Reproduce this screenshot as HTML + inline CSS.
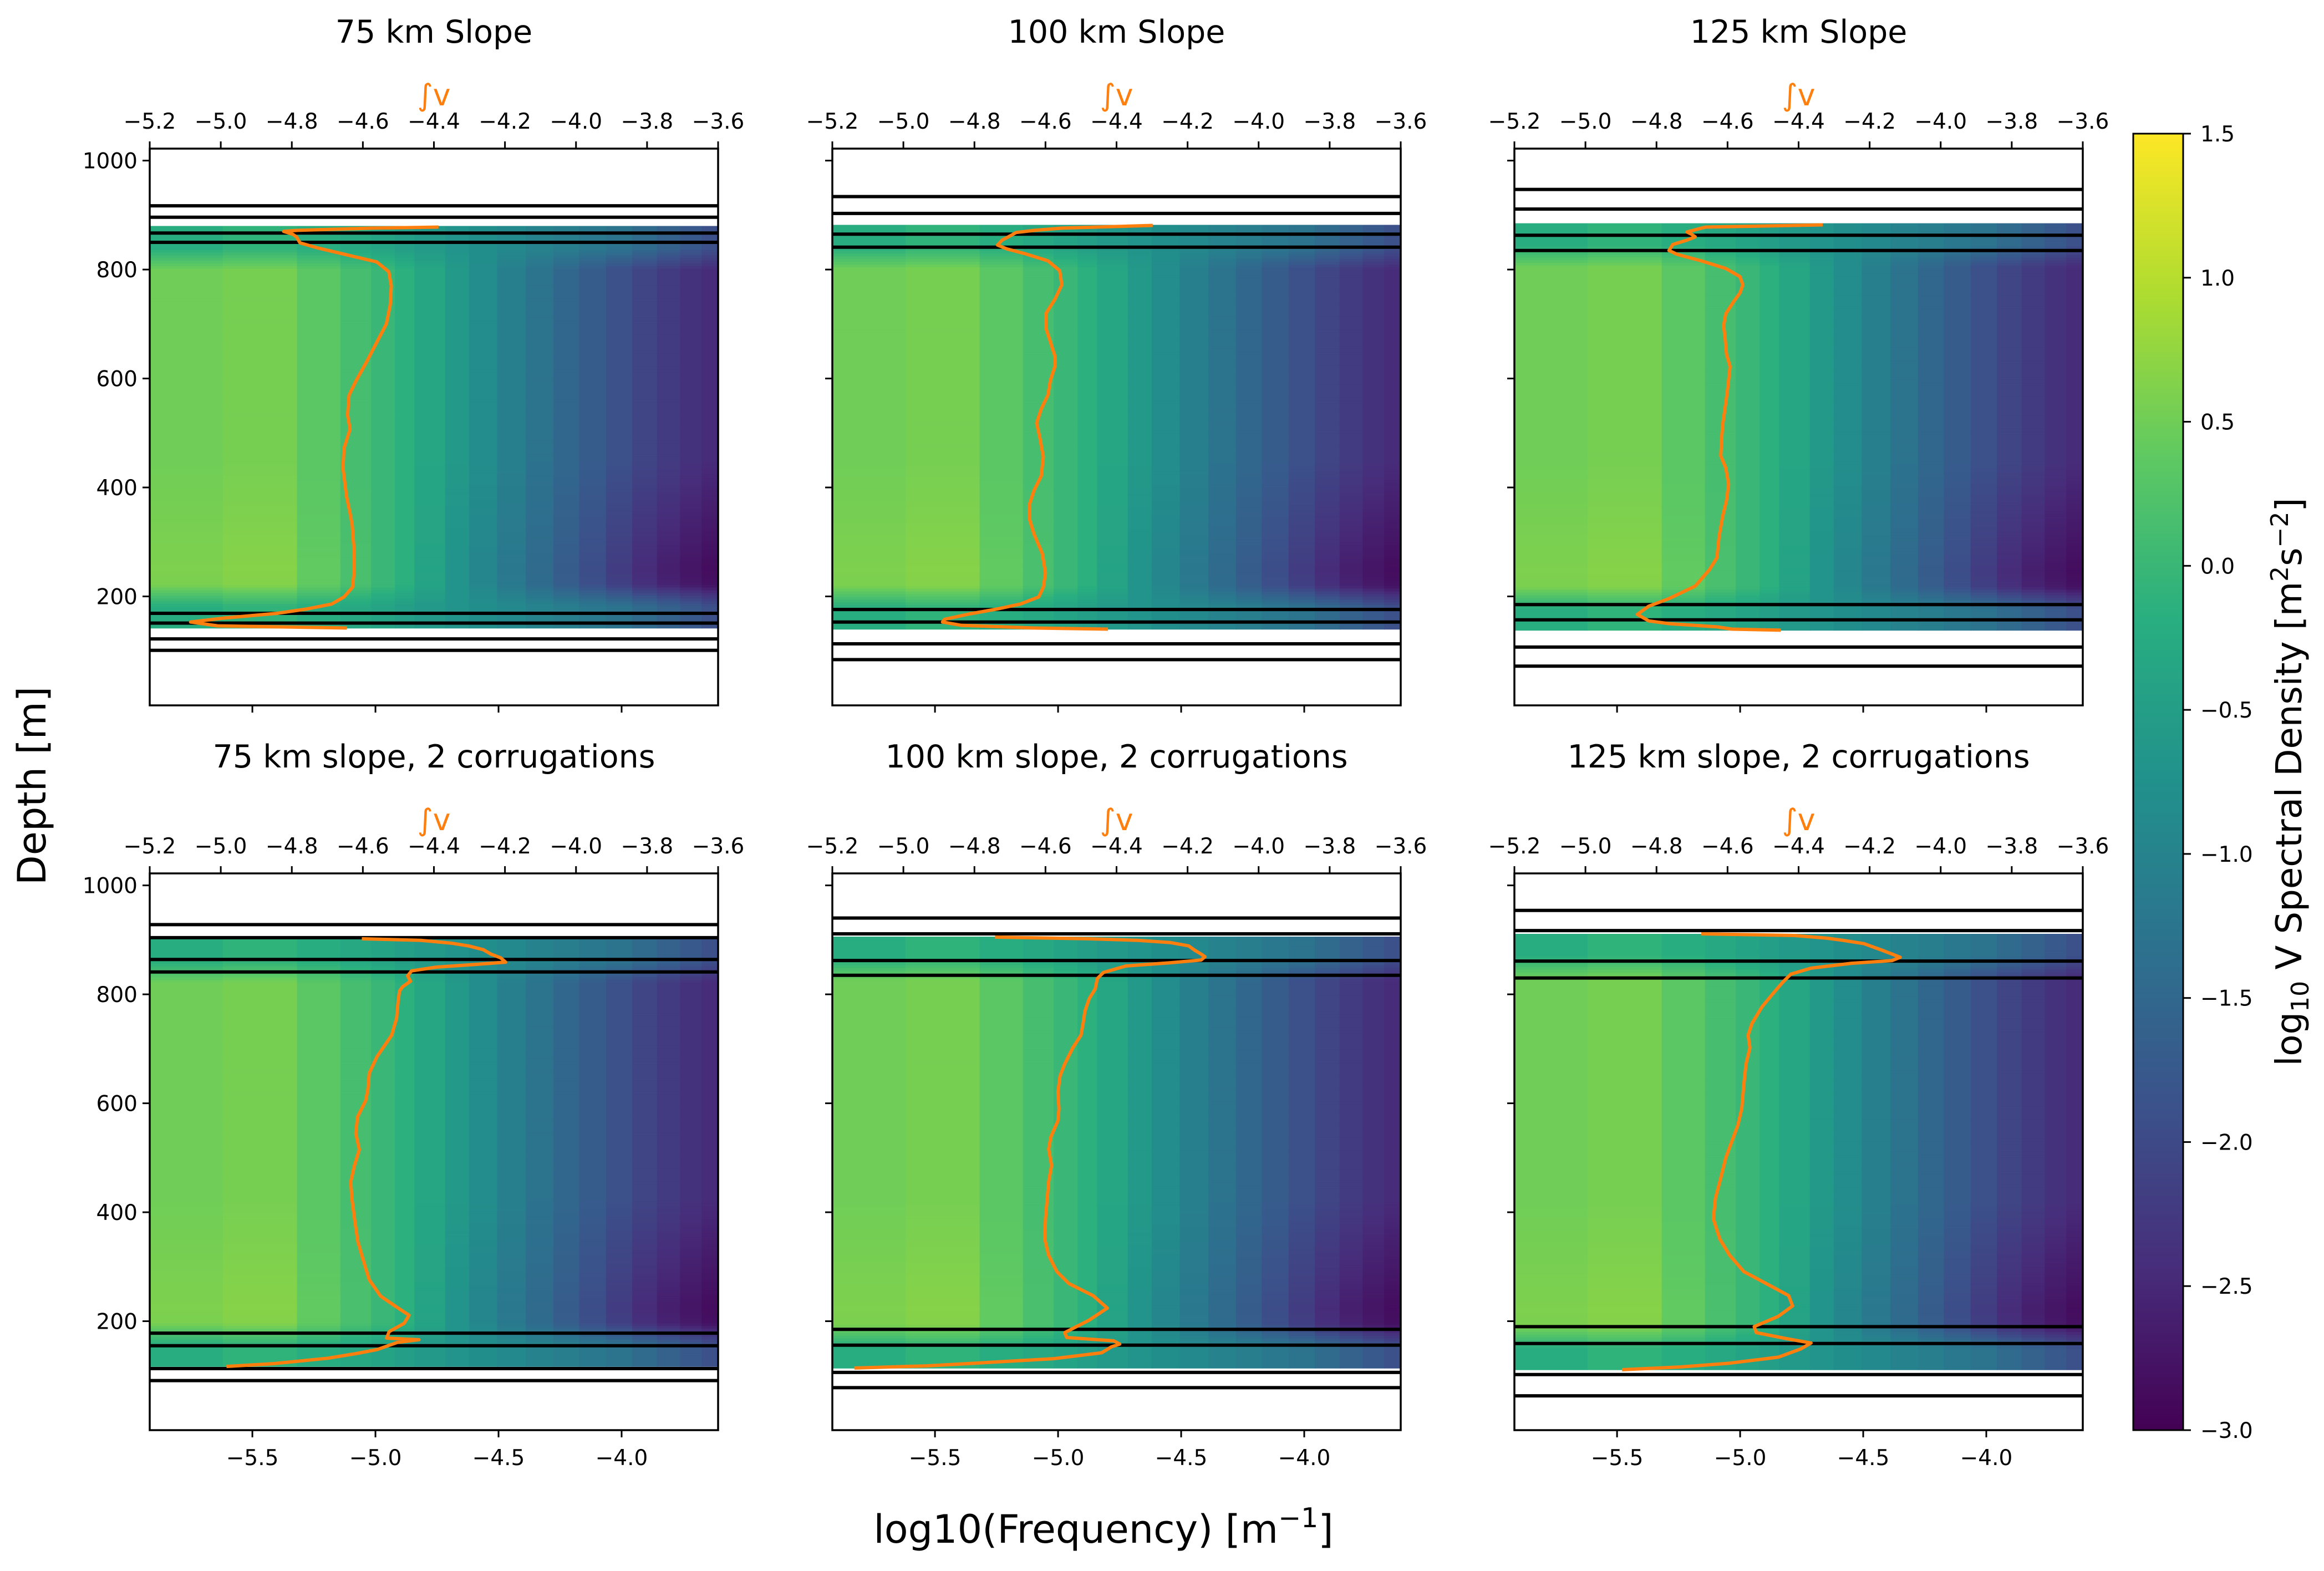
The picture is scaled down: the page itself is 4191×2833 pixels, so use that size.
<!DOCTYPE html>
<html><head><meta charset="utf-8"><title>V spectral density panels</title>
<style>html,body{margin:0;padding:0;background:#fff}svg{display:block}text{font-family:"DejaVu Sans","Liberation Sans",sans-serif}</style>
</head><body>
<svg id="fig" xmlns="http://www.w3.org/2000/svg" width="4191" height="2833" viewBox="0 0 4191 2833">
<defs>
<linearGradient id="viridis" x1="0" y1="1" x2="0" y2="0">
<stop offset="0" stop-color="#440154"/><stop offset="0.125" stop-color="#472d7b"/><stop offset="0.25" stop-color="#3b528b"/><stop offset="0.375" stop-color="#2c728e"/><stop offset="0.5" stop-color="#21918c"/><stop offset="0.625" stop-color="#28ae80"/><stop offset="0.75" stop-color="#5ec962"/><stop offset="0.875" stop-color="#addc30"/><stop offset="1" stop-color="#fde725"/>
</linearGradient>
</defs>
<g id="panels"></g>
<text x="0" y="0" font-size="70" text-anchor="middle" transform="translate(82,1417) rotate(-90)">Depth [m]</text>
<text x="1990" y="2782" font-size="70" text-anchor="middle">log10(Frequency) [m<tspan font-size="49" dy="-28">−1</tspan><tspan dy="28">]</tspan></text>
<g id="cbar">
<rect x="3847" y="241" width="90" height="2338" fill="url(#viridis)" stroke="#000" stroke-width="3"/>
</g>
<text x="0" y="0" font-size="64" text-anchor="middle" transform="translate(4150,1410) rotate(-90)">log<tspan font-size="44" dy="13">10</tspan><tspan dy="-13"> V Spectral Density [m</tspan><tspan font-size="44" dy="-24">2</tspan><tspan dy="24">s</tspan><tspan font-size="44" dy="-24">−2</tspan><tspan dy="24">]</tspan></text>
</svg>
<script>
// ---- data ----
const titles = ["75 km Slope","100 km Slope","125 km Slope","75 km slope, 2 corrugations","100 km slope, 2 corrugations","125 km slope, 2 corrugations"];
const topTicks = [-5.2,-5.0,-4.8,-4.6,-4.4,-4.2,-4.0,-3.8,-3.6];
const bottomTicks = [-5.5,-5.0,-4.5,-4.0];
const depthTicks = [200,400,600,800,1000];
const cbTicks = [1.5,1.0,0.5,0.0,-0.5,-1.0,-1.5,-2.0,-2.5,-3.0];
// frequency bin edges as multiples of base frequency 2.4e-6 1/m
const binMultiples = [0.5,1,2,3,4,5,6,8,10,13,17,22,28,36,46,58,72,88,103];
const specInterior = [0.5,0.55,0.33,0.13,0.0,-0.15,-0.35,-0.6,-0.82,-1.07,-1.3,-1.5,-1.7,-1.9,-2.07,-2.22,-2.36,-2.45];
const specBoundary = [-0.2,-0.1,-0.2,-0.3,-0.4,-0.5,-0.6,-0.7,-0.8,-0.9,-1.0,-1.1,-1.2,-1.3,-1.45,-1.6,-1.75,-1.9];
const specLower = [0.6,0.66,0.4,0.17,0.0,-0.15,-0.4,-0.7,-0.95,-1.2,-1.45,-1.7,-1.95,-2.2,-2.45,-2.62,-2.75,-2.85];
const hLines1 = [917,896,867,850,169,151,122,101];
const hLines2 = [934,903,865,841,176,153,113,84];
const hLines3 = [947,911,863,835,185,157,107,72];
const hLines4 = [928,904,864,841,178,155,113,91];
const hLines5 = [940,911,862,835,185,156,106,78];
const hLines6 = [954,917,861,830,190,159,102,63];
const heatRange1 = [142,880];
const heatRange2 = [140,882];
const heatRange3 = [138,885];
const heatRange4 = [117,902];
const heatRange5 = [114,906];
const heatRange6 = [111,911];
const profDepth1 = [878,876,872,870,865,860,849,840,827,814,796,770,735,700,665,630,595,569,533,507,472,436,384,349,331,287,243,217,199,186,177,169,160,153,146,142];
const profV1 = [-4.387,-4.575,-4.784,-4.823,-4.798,-4.787,-4.777,-4.729,-4.645,-4.561,-4.527,-4.520,-4.523,-4.534,-4.562,-4.590,-4.620,-4.639,-4.643,-4.636,-4.653,-4.656,-4.646,-4.635,-4.630,-4.625,-4.625,-4.629,-4.653,-4.688,-4.757,-4.841,-4.994,-5.085,-5.009,-4.645];
const profDepth2 = [881,876,872,868,863,854,845,838,829,816,798,772,746,719,693,667,640,623,597,570,544,518,492,456,421,395,369,342,314,279,243,217,199,186,177,168,158,153,147,142,140];
const profV2 = [-4.298,-4.554,-4.631,-4.683,-4.696,-4.722,-4.735,-4.709,-4.657,-4.593,-4.560,-4.554,-4.573,-4.599,-4.599,-4.586,-4.573,-4.573,-4.586,-4.593,-4.612,-4.625,-4.616,-4.606,-4.612,-4.632,-4.645,-4.645,-4.632,-4.609,-4.600,-4.606,-4.619,-4.671,-4.735,-4.813,-4.884,-4.890,-4.838,-4.631,-4.424];
const profDepth3 = [882,878,874,869,865,860,854,846,835,828,816,802,787,772,757,742,719,697,675,645,622,585,555,518,495,458,436,406,376,346,309,271,249,219,196,182,167,155,150,144,140,138];
const profV3 = [-4.332,-4.662,-4.685,-4.714,-4.702,-4.691,-4.714,-4.754,-4.765,-4.742,-4.674,-4.605,-4.565,-4.557,-4.565,-4.582,-4.605,-4.611,-4.607,-4.603,-4.593,-4.599,-4.605,-4.613,-4.616,-4.619,-4.605,-4.597,-4.603,-4.614,-4.624,-4.630,-4.651,-4.691,-4.765,-4.822,-4.854,-4.822,-4.765,-4.628,-4.588,-4.450];
const profDepth4 = [902,899,894,889,882,874,867,859,855,850,843,834,824,814,806,786,756,725,685,655,625,605,575,545,515,485,456,426,386,346,306,276,246,226,211,196,181,169,166,161,148,141,132,122,117];
const profV4 = [-4.603,-4.436,-4.352,-4.303,-4.261,-4.240,-4.212,-4.198,-4.282,-4.393,-4.463,-4.474,-4.466,-4.488,-4.497,-4.501,-4.505,-4.519,-4.561,-4.582,-4.586,-4.592,-4.615,-4.620,-4.610,-4.624,-4.634,-4.631,-4.623,-4.614,-4.596,-4.582,-4.550,-4.505,-4.470,-4.484,-4.526,-4.533,-4.442,-4.503,-4.559,-4.615,-4.699,-4.852,-4.984];
const profDepth5 = [905,902,899,895,889,881,874,869,863,858,852,840,829,810,792,769,747,725,702,672,650,620,590,568,538,516,486,456,426,388,351,321,291,269,247,224,202,179,170,164,158,153,142,131,123,118,114];
const profV5 = [-4.742,-4.479,-4.340,-4.248,-4.197,-4.180,-4.162,-4.151,-4.162,-4.248,-4.374,-4.437,-4.454,-4.460,-4.477,-4.489,-4.494,-4.500,-4.523,-4.546,-4.559,-4.565,-4.562,-4.565,-4.585,-4.591,-4.583,-4.591,-4.595,-4.600,-4.602,-4.591,-4.568,-4.534,-4.466,-4.426,-4.477,-4.546,-4.540,-4.408,-4.391,-4.414,-4.442,-4.580,-4.797,-4.935,-5.138];
const profDepth6 = [911,908,903,899,893,881,874,868,862,857,848,837,822,800,777,747,725,702,672,635,590,560,530,500,463,426,388,351,321,291,269,247,228,209,190,179,168,160,149,134,123,116,111];
const profV6 = [-4.674,-4.411,-4.319,-4.274,-4.216,-4.165,-4.137,-4.114,-4.137,-4.251,-4.365,-4.422,-4.445,-4.474,-4.503,-4.531,-4.542,-4.537,-4.548,-4.554,-4.560,-4.571,-4.588,-4.605,-4.619,-4.634,-4.640,-4.622,-4.594,-4.554,-4.491,-4.428,-4.417,-4.457,-4.525,-4.519,-4.434,-4.365,-4.394,-4.457,-4.594,-4.731,-4.897];

const hLinesAll=[hLines1,hLines2,hLines3,hLines4,hLines5,hLines6];
const heatAll=[heatRange1,heatRange2,heatRange3,heatRange4,heatRange5,heatRange6];
const profDAll=[profDepth1,profDepth2,profDepth3,profDepth4,profDepth5,profDepth6];
const profVAll=[profV1,profV2,profV3,profV4,profV5,profV6];

// ---- layout ----
const NS="http://www.w3.org/2000/svg";
const colL=[270,1501,2731], rowT=[268,1575], W=1025, H=1004;
const BX0=-5.917, BX1=-3.608, TX0=-5.2, TX1=-3.6, D0=0, D1=1022;
const baseF=2.4e-6;
const VS=[[0,"#440154"],[0.125,"#472d7b"],[0.25,"#3b528b"],[0.375,"#2c728e"],[0.5,"#21918c"],[0.625,"#28ae80"],[0.75,"#5ec962"],[0.875,"#addc30"],[1,"#fde725"]];
function hex(c){return [parseInt(c.slice(1,3),16),parseInt(c.slice(3,5),16),parseInt(c.slice(5,7),16)];}
function viridis(v){let t=(v+3)/4.5;t=Math.max(0,Math.min(1,t));for(let i=0;i<VS.length-1;i++){if(t<=VS[i+1][0]){const a=hex(VS[i][1]),b=hex(VS[i+1][1]),f=(t-VS[i][0])/(VS[i+1][0]-VS[i][0]);return "rgb("+a.map((x,k)=>Math.round(x+(b[k]-x)*f)).join(",")+")";}}return VS[8][1];}
function mk(tag,attrs,parent){const e=document.createElementNS(NS,tag);for(const k in attrs)e.setAttribute(k,attrs[k]);parent.appendChild(e);return e;}
const root=document.getElementById("panels");

for(let p=0;p<6;p++){
  const c=p%3, r=Math.floor(p/3), L=colL[c], T=rowT[r];
  const xb=v=>L+(v-BX0)/(BX1-BX0)*W;
  const xt=v=>L+(v-TX0)/(TX1-TX0)*W;
  const yd=d=>T+(D1-d)/(D1-D0)*H;
  const g=mk("g",{},root);
  
  
  const clipId="clip"+p;
  const cp=mk("clipPath",{id:clipId},g);
  mk("rect",{x:L,y:T,width:W,height:H},cp);
  const heat=mk("g",{"clip-path":"url(#"+clipId+")"},g);
  
  
  const hb=heatAll[p][0], ht=heatAll[p][1];
  const step=5;
  for(let d=hb; d<ht; d+=step){
    const dm=d+step/2;
    const dist=Math.min(dm-hb, ht-dm);
    const wb=dist<40?1:(dist<80?1-(dist-40)/40:0);
    const wl=Math.max(0,1-Math.abs(dm-(hb+110))/200);
    for(let j=0;j<specInterior.length;j++){
      const v=wb*specBoundary[j]+(1-wb)*(wl*specLower[j]+(1-wl)*specInterior[j]);
      const x0=xb(Math.log10(binMultiples[j]*baseF)), x1=xb(Math.log10(binMultiples[j+1]*baseF));
      const y0=yd(Math.min(d+step,ht)), y1=yd(d);
      const cell=mk("rect",{x:x0.toFixed(1),y:y0.toFixed(1),width:(x1-x0+0.8).toFixed(1),height:(y1-y0+0.8).toFixed(1),fill:viridis(v)},heat);
      
      
    }
  }
  hLinesAll[p].forEach(d=>{
    const ln=mk("line",{x1:L,x2:L+W,y1:yd(d),y2:yd(d),stroke:"#000","stroke-width":6},g);
    
    
  });
  const pts=profDAll[p].map((d,i)=>xt(profVAll[p][i]).toFixed(1)+","+yd(d).toFixed(1)).join(" ");
  const pl=mk("polyline",{points:pts,fill:"none",stroke:"#ff7f0e","stroke-width":6,"stroke-linejoin":"round","clip-path":"url(#"+clipId+")"},g);
  
  
  const fr=mk("rect",{x:L,y:T,width:W,height:H,fill:"none",stroke:"#000","stroke-width":3.5},g);
  
  
  topTicks.forEach(v=>{
    const x=xt(v);
    const tk=mk("line",{x1:x,x2:x,y1:T,y2:T-13,stroke:"#000","stroke-width":3},g);
    
    
    const tl=mk("text",{x:x,y:T-36,"font-size":39,"text-anchor":"middle"},g);
    tl.textContent=(v<0?"−":"")+Math.abs(v).toFixed(1);
    
    
  });
  bottomTicks.forEach(v=>{
    const x=xb(v);
    const tk=mk("line",{x1:x,x2:x,y1:T+H,y2:T+H+13,stroke:"#000","stroke-width":3},g);
    
    
    if(r===1){
      const tl=mk("text",{x:x,y:T+H+63,"font-size":39,"text-anchor":"middle"},g);
      tl.textContent=(v<0?"−":"")+Math.abs(v).toFixed(1);
      
      
    }
  });
  depthTicks.forEach(d=>{
    const y=yd(d);
    const tk=mk("line",{x1:L,x2:L-13,y1:y,y2:y,stroke:"#000","stroke-width":3},g);
    
    
    if(c===0){
      const tl=mk("text",{x:L-22,y:y+14,"font-size":39,"text-anchor":"end"},g);
      tl.textContent=String(d);
      
      
    }
  });
  const iv=mk("text",{x:L+W/2,y:T-78,"font-size":54,"text-anchor":"middle",fill:"#ff7f0e"},g);
  iv.textContent="∫v";
  
  
  const tt=mk("text",{x:L+W/2,y:T-191,"font-size":57,"text-anchor":"middle"},g);
  tt.textContent=titles[p];
  
  
}
const cb=document.getElementById("cbar");
cbTicks.forEach(v=>{
  const y=2579-(v+3)/4.5*2338;
  const tk=mk("line",{x1:3937,x2:3951,y1:y,y2:y,stroke:"#000","stroke-width":3},cb);
  
  
  const tl=mk("text",{x:3968,y:y+14,"font-size":39},cb);
  tl.textContent=(v<0?"−":"")+Math.abs(v).toFixed(1);
  
  
});
</script>
</body></html>
